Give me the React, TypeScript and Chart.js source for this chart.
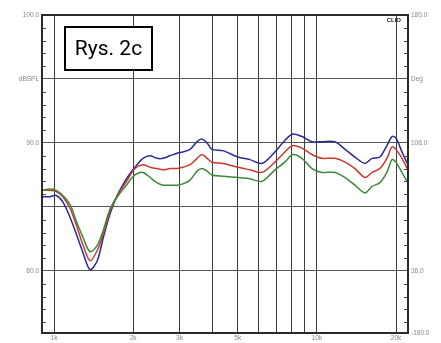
import React, { useEffect, useRef } from "react";
import { Chart, registerables } from "chart.js";

Chart.register(...registerables);

const freqs = [
  900, 965, 1020, 1080, 1150, 1210, 1290, 1370, 1460, 1540, 1630, 1740, 1900, 2030, 2180, 2320,
  2460, 2600, 2760, 2940, 3090, 3290, 3500, 3650, 3820, 3990, 4390, 5010, 5560, 6180, 6920, 7550,
  8100, 8770, 9570, 10450, 11700, 12800, 13950, 15230, 16200, 17350, 18450, 19300, 19970, 21050, 22180,
];

const blueDb = [
  85.8, 85.8, 85.9, 85.4, 84.2, 83.0, 81.4, 80.1, 80.8, 82.6, 84.4, 85.9, 87.3, 88.1, 88.8, 89.0,
  88.8, 88.8, 89.0, 89.2, 89.3, 89.5, 90.1, 90.3, 90.0, 89.5, 89.4, 88.9, 88.7, 88.4, 89.3, 90.2,
  90.7, 90.5, 90.1, 90.1, 90.1, 89.5, 88.9, 88.4, 88.8, 88.9, 89.8, 90.5, 90.4, 89.3, 88.3,
];

const redDb = [
  86.3, 86.3, 86.2, 85.8, 84.9, 83.7, 82.0, 80.8, 81.6, 82.9, 84.6, 85.9, 87.1, 88.0, 88.3, 88.1,
  88.0, 87.9, 88.0, 88.0, 88.1, 88.3, 88.8, 89.1, 88.8, 88.5, 88.4, 88.1, 87.9, 87.7, 88.5, 89.3,
  89.8, 89.6, 89.1, 88.8, 88.8, 88.5, 88.0, 87.3, 87.7, 88.0, 88.8, 89.7, 89.5, 88.8, 87.9,
];

const greenDb = [
  86.3, 86.4, 86.3, 85.9, 85.2, 84.0, 82.6, 81.5, 82.0, 83.2, 84.8, 85.8, 86.8, 87.5, 87.7, 87.3,
  86.9, 86.7, 86.7, 86.7, 86.8, 87.1, 87.8, 88.0, 87.8, 87.5, 87.4, 87.3, 87.2, 87.0, 87.9, 88.5,
  89.1, 88.8, 88.0, 87.7, 87.7, 87.3, 86.7, 86.1, 86.6, 86.9, 87.7, 88.7, 88.5, 87.7, 86.9,
];

const xGrid = [1000, 2000, 3000, 4000, 5000, 6000, 7000, 8000, 9000, 10000, 20000];
const xLabelValues = [1000, 2000, 3000, 5000, 10000, 20000];
const xLabelTexts = ["1k", "2k", "3k", "5k", "10k", "20k"];
const yGrid = [80, 85, 90, 95, 100];
const leftLabelValues = [100, 95, 90, 80];
const leftLabelTexts = ["100.0", "dBSPL", "90.0", "80.0"];
const rightLabelValues = [100, 95, 90, 80, 75.15];
const rightLabelTexts = ["180.0", "Deg", "108.0", "36.0", "-180.0"];
const minorTicks = [76, 77, 78, 79, 81, 82, 83, 84, 86, 87, 88, 89, 91, 92, 93, 94, 96, 97, 98, 99];
const figTitle = "Rys. 2c";
const brand = "CLIO";

const decorPlugin = {
  id: "decor",
  afterDraw(chart: any) {
    const { ctx, chartArea } = chart;
    const xs = chart.scales.x;
    const ys = chart.scales.y;
    const { left, right, top, bottom } = chartArea;
    ctx.save();
    ctx.strokeStyle = "#444";
    ctx.lineWidth = 1;
    for (const v of minorTicks) {
      const y = Math.round(ys.getPixelForValue(v)) + 0.5;
      ctx.beginPath();
      ctx.moveTo(left, y);
      ctx.lineTo(left + 4, y);
      ctx.moveTo(right - 4, y);
      ctx.lineTo(right, y);
      ctx.stroke();
    }
    ctx.strokeStyle = "#2a2a2a";
    ctx.lineWidth = 2;
    ctx.strokeRect(left, top, right - left, bottom - top);

    ctx.fillStyle = "#888";
    ctx.font = "6.5px 'Liberation Sans', Arial, sans-serif";
    ctx.textBaseline = "middle";
    ctx.textAlign = "right";
    leftLabelValues.forEach((v, i) => {
      ctx.fillText(leftLabelTexts[i], left - 3, ys.getPixelForValue(v));
    });
    ctx.textAlign = "left";
    rightLabelValues.forEach((v, i) => {
      ctx.fillText(rightLabelTexts[i], right + 3, ys.getPixelForValue(v));
    });
    ctx.textAlign = "center";
    ctx.textBaseline = "top";
    xLabelValues.forEach((v, i) => {
      ctx.fillText(xLabelTexts[i], xs.getPixelForValue(v), bottom + 2);
    });

    ctx.fillStyle = "#222";
    ctx.font = "bold 6px 'Liberation Sans', Arial, sans-serif";
    ctx.textAlign = "right";
    ctx.textBaseline = "middle";
    ctx.fillText(brand, right - 7, top + 5);

    const bx = 65, by = 27, bw = 87, bh = 43;
    ctx.fillStyle = "#fff";
    ctx.fillRect(bx, by, bw, bh);
    ctx.strokeStyle = "#000";
    ctx.lineWidth = 2;
    ctx.strokeRect(bx, by, bw, bh);
    ctx.fillStyle = "#000";
    ctx.font = "21px Roboto, 'Noto Sans', sans-serif";
    ctx.textAlign = "center";
    ctx.textBaseline = "middle";
    ctx.fillText(figTitle, bx + bw / 2, by + bh / 2 + 1);
    ctx.restore();
  },
};

export default function App() {
  const ref = useRef<HTMLCanvasElement>(null);
  useEffect(() => {
    if (!ref.current) return;
    const mk = (data: number[], color: string) => ({
      data: freqs.map((f, i) => ({ x: f, y: data[i] })),
      borderColor: color,
      borderWidth: 1.5,
      pointRadius: 0,
      tension: 0.3,
      fill: false,
    });
    const chart = new Chart(ref.current, {
      type: "line",
      data: {
        datasets: [
          mk(greenDb, "#3b8a3b"),
          mk(redDb, "#c8392f"),
          mk(blueDb, "#2a2a96"),
        ],
      },
      options: {
        animation: false,
        responsive: false,
        devicePixelRatio: 1,
        layout: { padding: { left: 42, top: 15, right: 33, bottom: 10 } },
        plugins: { legend: { display: false }, tooltip: { enabled: false } },
        scales: {
          x: {
            type: "logarithmic",
            min: 900,
            max: 22200,
            afterBuildTicks: (s: any) => {
              s.ticks = xGrid.map((v) => ({ value: v }));
            },
            ticks: { display: false },
            grid: { color: "#3c3c3c", lineWidth: 1, drawTicks: false },
            border: { display: false },
          },
          y: {
            type: "linear",
            min: 75.15,
            max: 100,
            afterBuildTicks: (s: any) => {
              s.ticks = yGrid.map((v) => ({ value: v }));
            },
            ticks: { display: false },
            grid: { color: "#555", lineWidth: 1, drawTicks: false },
            border: { display: false },
          },
        },
      },
      plugins: [decorPlugin],
    } as any);
    return () => chart.destroy();
  }, []);
  return (
    <div style={{ position: "fixed", left: 0, top: 0, width: 441, height: 343, background: "#fff" }}>
      <canvas ref={ref} width={441} height={343} />
    </div>
  );
}
